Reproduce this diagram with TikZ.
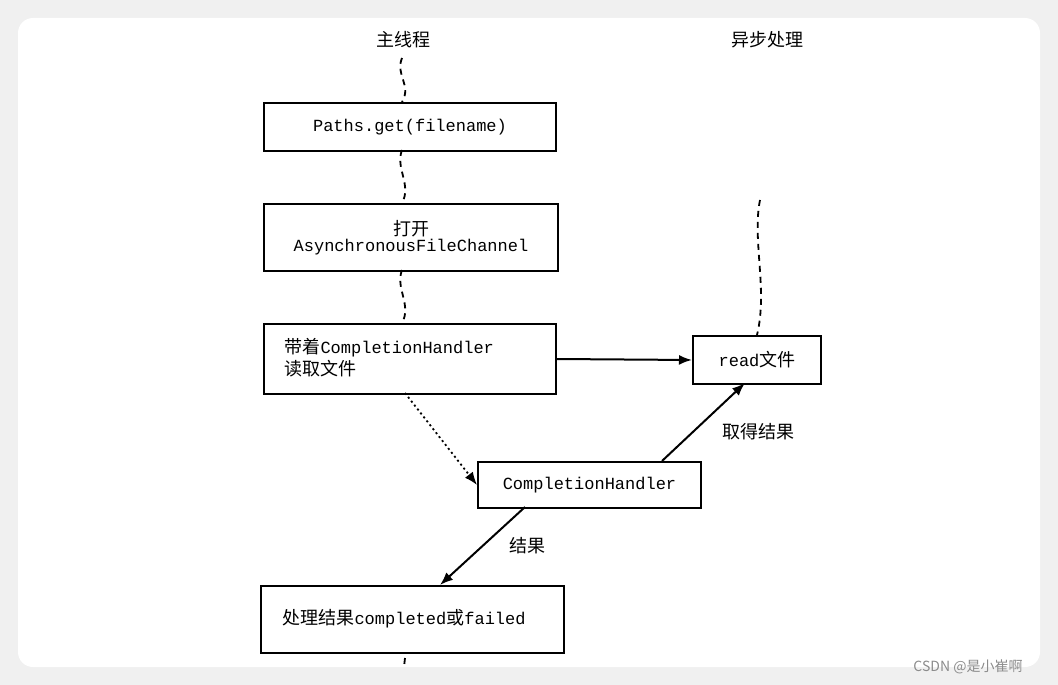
\documentclass[tikz,border=0pt]{standalone}
\usepackage{fontspec}
\setmonofont{Liberation Mono}
\newfontfamily\cjk{Noto Sans CJK SC}
\usetikzlibrary{arrows.meta}
\begin{document}
\begin{tikzpicture}[x=1pt,y=-1pt,
  box/.style={draw,line width=2pt,inner sep=0pt,anchor=north west},
  cn/.style={font=\cjk\fontsize{18}{21}\selectfont},
  wav/.style={dash pattern=on 6pt off 5pt,line width=1.8pt},
  arr/.style={line width=2pt,-{Latex[length=13pt,width=10pt]}},
  tt/.style={font=\fontsize{17}{20}\selectfont\ttfamily}]
\fill[black!6] (0,0) rectangle (1058,685);
\fill[white,rounded corners=15] (18,18) rectangle (1040,667);
\useasboundingbox (0,0) rectangle (1058,685);
\node[cn] (t1) at (403,40) {主线程};
\node[cn] (t2) at (767,40) {异步处理};
\node[box,minimum width=292pt,minimum height=48pt] (b1) at (263,102) {};
\node[tt] at (b1.center) {Paths.get(filename)};
\node[box,minimum width=294pt,minimum height=67pt] (b2) at (263,203) {};
\node[align=center] at (b2.center) {{\cjk\fontsize{18}{21}\selectfont 打开}\\[1pt]{\fontsize{17}{20}\selectfont\ttfamily AsynchronousFileChannel}};
\node[box,minimum width=292pt,minimum height=70pt] (b3) at (263,323) {};
\node[align=left,anchor=west] at (281,358) {{\cjk\fontsize{18}{21}\selectfont 带着}{\fontsize{17}{20}\selectfont\ttfamily CompletionHandler}\\[2pt]{\cjk\fontsize{18}{21}\selectfont 读取文件}};
\node[box,minimum width=128pt,minimum height=48pt] (b4) at (692,335) {};
\node at (b4.center) {{\fontsize{17}{20}\selectfont\ttfamily read}{\cjk\fontsize{18}{21}\selectfont 文件}};
\node[box,minimum width=223pt,minimum height=46pt] (b5) at (477,461) {};
\node[tt] at (b5.center) {CompletionHandler};
\node[box,minimum width=303pt,minimum height=67pt] (b6) at (260,585) {};
\node[anchor=west] at (279,619) {{\cjk\fontsize{18}{21}\selectfont 处理结果}{\fontsize{17}{20}\selectfont\ttfamily completed}{\cjk\fontsize{18}{21}\selectfont 或}{\fontsize{17}{20}\selectfont\ttfamily failed}};
\coordinate (w0) at (402,58);
\draw[wav] (w0) .. controls (395,75) and (412,85) .. (b1.north -| w0);
\draw[wav] (402,150) .. controls (395,168) and (412,185) .. (402,203);
\draw[wav] (402,270) .. controls (395,288) and (412,305) .. (402,323);
\coordinate (a0) at (760,200);
\draw[wav] (a0) .. controls (752,240) and (768,290) .. (757,335);
\draw[wav] (405,658) -- (404,667);
\draw[arr,dash pattern=on 2pt off 3pt,line width=1.8pt] (405,393) -- (b5.west);
\draw[arr] (b3.east) -- (b4.west);
\draw[arr] (662,461) -- (745,383);
\draw[arr] (525,507) -- (440,585);
\node[cn] (l1) at (758,432) {取得结果};
\node[cn] (l2) at (527,546) {结果};
\node[font=\cjk\fontsize{14}{16}\selectfont,text=black!45] (wm) at (968,667) {CSDN @是小崔啊};
\end{tikzpicture}
\end{document}
